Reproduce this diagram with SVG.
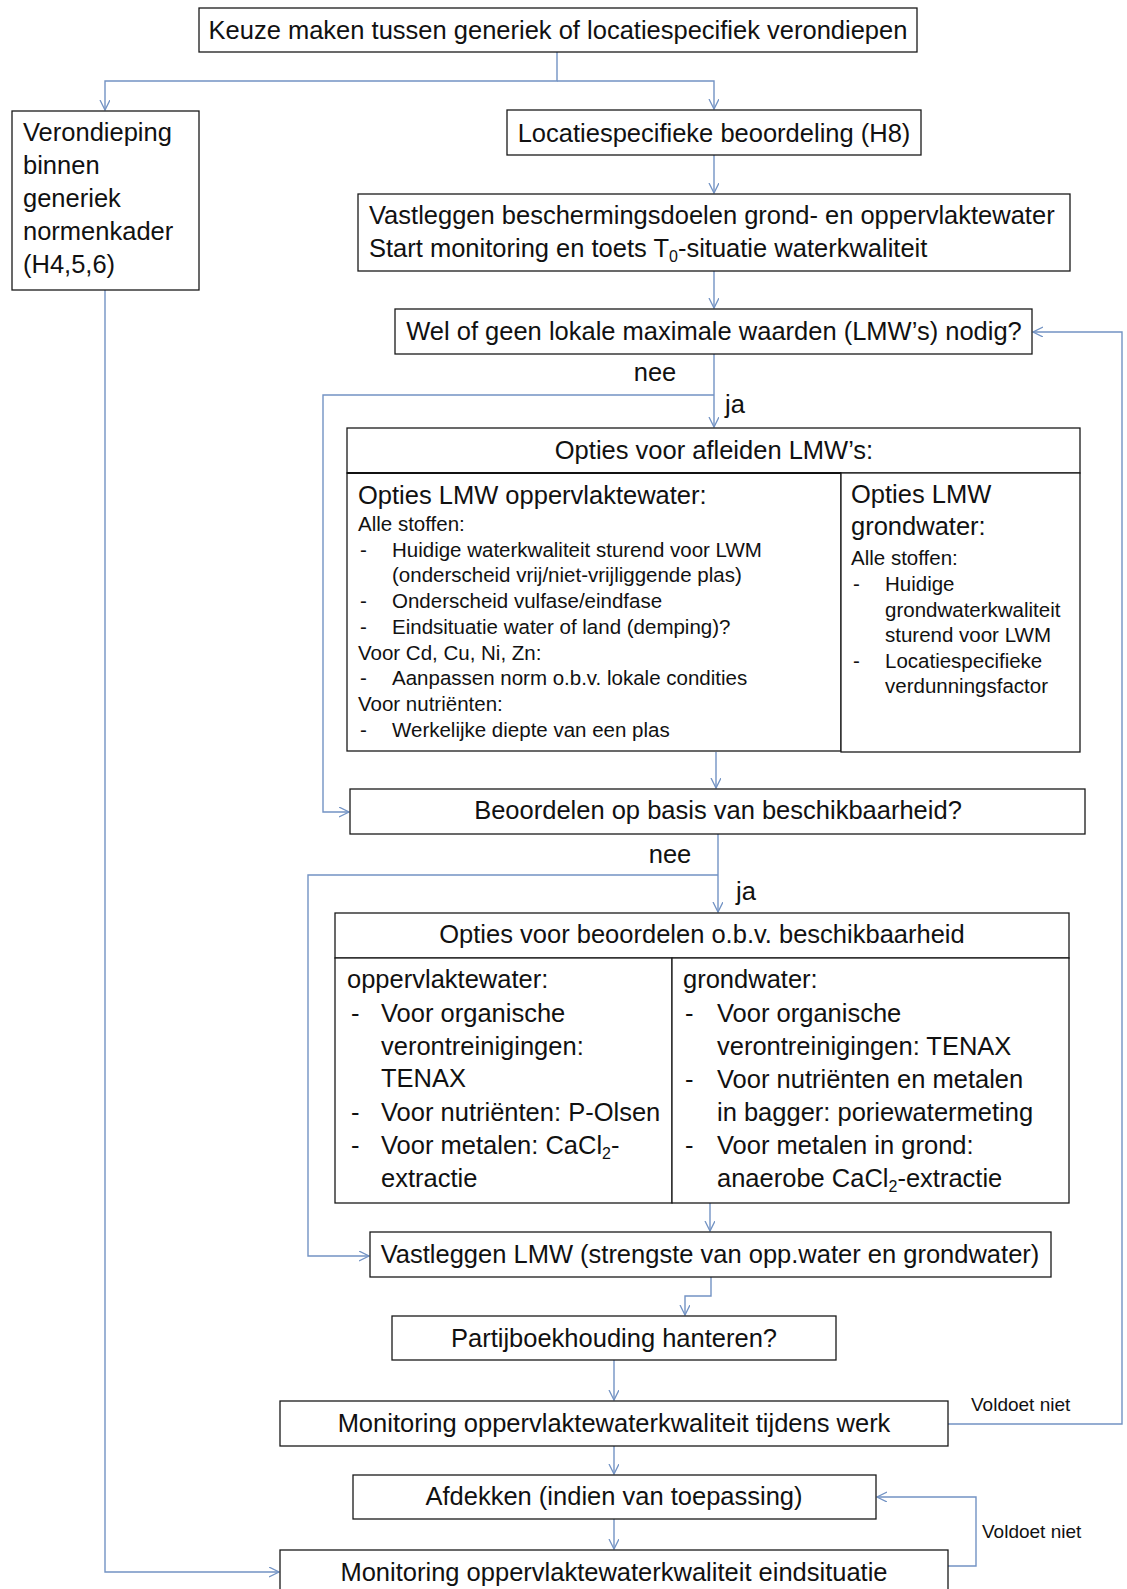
<svg xmlns="http://www.w3.org/2000/svg" width="1127" height="1589" viewBox="0 0 1127 1589">
<style>
.box{fill:#fff;stroke:#1a1a1a;stroke-width:1.3}
.t{font-family:'Liberation Sans',Arial,sans-serif;font-size:25.5px;fill:#111}
.c{text-anchor:middle}
.s{font-size:20.5px}
.m{font-size:25.5px}
.v{font-size:19px}
.conn path{fill:none;stroke:#7393c4;stroke-width:1.4}
</style>
<defs>
<marker id="ah" markerUnits="userSpaceOnUse" markerWidth="12" markerHeight="12" refX="10" refY="5" orient="auto">
<path d="M0,0 L10,5 L0,10" fill="none" stroke="#7393c4" stroke-width="1.3"/>
</marker>
</defs>
<rect width="1127" height="1589" fill="#fff"/>
<g id="connectors" class="conn">
<path d="M557,52 V81 H105 V110" marker-end="url(#ah)"/>
<path d="M557,81 H714 V109" marker-end="url(#ah)"/>
<path d="M714,155 V193" marker-end="url(#ah)"/>
<path d="M714,271 V308" marker-end="url(#ah)"/>
<path d="M714,354 V427" marker-end="url(#ah)"/>
<path d="M714,395 H323 V812 H349" marker-end="url(#ah)"/>
<path d="M716,752 V788" marker-end="url(#ah)"/>
<path d="M718,834 V912" marker-end="url(#ah)"/>
<path d="M718,875 H308 V1256 H369" marker-end="url(#ah)"/>
<path d="M710,1203 V1231" marker-end="url(#ah)"/>
<path d="M711,1277 V1296 H685 V1315" marker-end="url(#ah)"/>
<path d="M614,1360 V1400" marker-end="url(#ah)"/>
<path d="M948,1424 H1122 V332 H1033" marker-end="url(#ah)"/>
<path d="M614,1446 V1474" marker-end="url(#ah)"/>
<path d="M614,1519 V1549" marker-end="url(#ah)"/>
<path d="M948,1566 H976 V1497 H877" marker-end="url(#ah)"/>
<path d="M105,290 V1572 H279" marker-end="url(#ah)"/>
</g>
<g id="lbl-nee1"><text class="t c" x="655" y="381">nee</text></g>
<g id="lbl-ja1"><text class="t" x="725" y="413">ja</text></g>
<g id="lbl-nee2"><text class="t c" x="670" y="863">nee</text></g>
<g id="lbl-ja2"><text class="t" x="736" y="900">ja</text></g>
<g id="lbl-voldoet1"><text class="t v" x="971" y="1411">Voldoet niet</text></g>
<g id="lbl-voldoet2"><text class="t v" x="982" y="1538">Voldoet niet</text></g>

<g id="keuze">
<rect class="box" x="199" y="8" width="718" height="44"/>
<text class="t c" x="558" y="39">Keuze maken tussen generiek of locatiespecifiek verondiepen</text>
</g>
<g id="generiek">
<rect class="box" x="12" y="111" width="187" height="179"/>
<text class="t" x="23" y="141">Verondieping</text>
<text class="t" x="23" y="174">binnen</text>
<text class="t" x="23" y="207">generiek</text>
<text class="t" x="23" y="240">normenkader</text>
<text class="t" x="23" y="273">(H4,5,6)</text>
</g>
<g id="locatiespecifiek">
<rect class="box" x="507" y="110" width="414" height="45"/>
<text class="t c" x="714" y="142">Locatiespecifieke beoordeling (H8)</text>
</g>
<g id="vastleggen-doelen">
<rect class="box" x="358" y="194" width="712" height="77"/>
<text class="t" x="369" y="224">Vastleggen beschermingsdoelen grond- en oppervlaktewater</text>
<text class="t" x="369" y="257">Start monitoring en toets T<tspan font-size="16" dy="5">0</tspan><tspan dy="-5">-situatie waterkwaliteit</tspan></text>
</g>
<g id="lmw-nodig">
<rect class="box" x="395" y="309" width="637" height="45"/>
<text class="t c" x="714" y="340">Wel of geen lokale maximale waarden (LMW’s) nodig?</text>
</g>
<g id="opties-lmw">
<rect class="box" x="347" y="428" width="733" height="45"/>
<text class="t c" x="714" y="459">Opties voor afleiden LMW’s:</text>
<rect class="box" x="347" y="473" width="494" height="278"/>
<line x1="347" y1="473" x2="841" y2="473" stroke="#111" stroke-width="2.2"/>
<rect class="box" x="841" y="473" width="239" height="279"/>
<text class="t" x="358" y="504">Opties LMW oppervlaktewater:</text>
<text class="t s" x="358" y="531">Alle stoffen:</text>
<text class="t s" x="360" y="557">-</text><text class="t s" x="392" y="557">Huidige waterkwaliteit sturend voor LWM</text>
<text class="t s" x="392" y="582">(onderscheid vrij/niet-vrijliggende plas)</text>
<text class="t s" x="360" y="608">-</text><text class="t s" x="392" y="608">Onderscheid vulfase/eindfase</text>
<text class="t s" x="360" y="634">-</text><text class="t s" x="392" y="634">Eindsituatie water of land (demping)?</text>
<text class="t s" x="358" y="660">Voor Cd, Cu, Ni, Zn:</text>
<text class="t s" x="360" y="685">-</text><text class="t s" x="392" y="685">Aanpassen norm o.b.v. lokale condities</text>
<text class="t s" x="358" y="711">Voor nutriënten:</text>
<text class="t s" x="360" y="737">-</text><text class="t s" x="392" y="737">Werkelijke diepte van een plas</text>
<text class="t" x="851" y="503">Opties LMW</text>
<text class="t" x="851" y="535">grondwater:</text>
<text class="t s" x="851" y="565">Alle stoffen:</text>
<text class="t s" x="853" y="591">-</text><text class="t s" x="885" y="591">Huidige</text>
<text class="t s" x="885" y="617">grondwaterkwaliteit</text>
<text class="t s" x="885" y="642">sturend voor LWM</text>
<text class="t s" x="853" y="668">-</text><text class="t s" x="885" y="668">Locatiespecifieke</text>
<text class="t s" x="885" y="693">verdunningsfactor</text>
</g>
<g id="beschikbaarheid">
<rect class="box" x="350" y="789" width="735" height="45"/>
<text class="t c" x="718" y="819">Beoordelen op basis van beschikbaarheid?</text>
</g>
<g id="opties-beschikbaarheid">
<rect class="box" x="335" y="913" width="734" height="45"/>
<text class="t c" x="702" y="943">Opties voor beoordelen o.b.v. beschikbaarheid</text>
<rect class="box" x="335" y="958" width="337" height="245"/>
<rect class="box" x="672" y="958" width="397" height="245"/>
<text class="t m" x="347" y="988">oppervlaktewater:</text>
<text class="t m" x="351" y="1022">-</text><text class="t m" x="381" y="1022">Voor organische</text>
<text class="t m" x="381" y="1055">verontreinigingen:</text>
<text class="t m" x="381" y="1087">TENAX</text>
<text class="t m" x="351" y="1121">-</text><text class="t m" x="381" y="1121">Voor nutriënten: P-Olsen</text>
<text class="t m" x="351" y="1154">-</text><text class="t m" x="381" y="1154">Voor metalen: CaCl<tspan font-size="16" dy="5">2</tspan><tspan dy="-5">-</tspan></text>
<text class="t m" x="381" y="1187">extractie</text>
<text class="t m" x="683" y="988">grondwater:</text>
<text class="t m" x="685" y="1022">-</text><text class="t m" x="717" y="1022">Voor organische</text>
<text class="t m" x="717" y="1055">verontreinigingen: TENAX</text>
<text class="t m" x="685" y="1088">-</text><text class="t m" x="717" y="1088">Voor nutriënten en metalen</text>
<text class="t m" x="717" y="1121">in bagger: poriewatermeting</text>
<text class="t m" x="685" y="1154">-</text><text class="t m" x="717" y="1154">Voor metalen in grond:</text>
<text class="t m" x="717" y="1187">anaerobe CaCl<tspan font-size="16" dy="5">2</tspan><tspan dy="-5">-extractie</tspan></text>
</g>
<g id="vastleggen-lmw">
<rect class="box" x="370" y="1232" width="681" height="45"/>
<text class="t c" x="710" y="1263">Vastleggen LMW (strengste van opp.water en grondwater)</text>
</g>
<g id="partijboekhouding">
<rect class="box" x="392" y="1316" width="444" height="44"/>
<text class="t c" x="614" y="1347">Partijboekhouding hanteren?</text>
</g>
<g id="monitoring-werk">
<rect class="box" x="280" y="1401" width="668" height="45"/>
<text class="t c" x="614" y="1432">Monitoring oppervlaktewaterkwaliteit tijdens werk</text>
</g>
<g id="afdekken">
<rect class="box" x="353" y="1475" width="523" height="44"/>
<text class="t c" x="614" y="1505">Afdekken (indien van toepassing)</text>
</g>
<g id="monitoring-eind">
<rect class="box" x="280" y="1550" width="668" height="60"/>
<text class="t c" x="614" y="1581">Monitoring oppervlaktewaterkwaliteit eindsituatie</text>
</g>
</svg>
